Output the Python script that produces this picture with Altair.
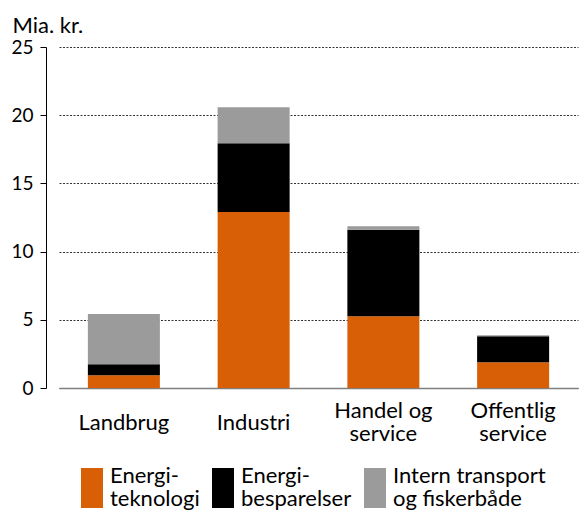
import altair as alt
import pandas as pd

categories = ["Landbrug", "Industri", "Handel og|service", "Offentlig|service"]
series = ["Energi-|teknologi", "Energi-|besparelser", "Intern transport|og fiskerbåde"]
energiteknologi = [0.93, 12.9, 5.26, 1.88]
energibesparelser = [0.81, 5.04, 6.35, 1.91]
intern_transport = [3.68, 2.64, 0.24, 0.07]
colors = ["#D95F07", "#000000", "#9B9B9B"]

rows = []
for i, c in enumerate(categories):
    for j, (s, vals) in enumerate(zip(series, [energiteknologi, energibesparelser, intern_transport])):
        rows.append({"kategori": c, "serie": s, "værdi": vals[i], "orden": j})
df = pd.DataFrame(rows)

FONT = "Lato"
FS = 22

chart = alt.Chart(df).mark_bar().encode(
    x=alt.X(
        "kategori:N",
        sort=categories,
        scale=alt.Scale(range=[13, 532], paddingInner=0.445, paddingOuter=0.2225),
        axis=alt.Axis(
            title=None,
            labelAngle=0,
            ticks=False,
            domainColor="#7f7f7f",
            domainWidth=1.5,
            labelExpr="split(datum.label, '|')",
            labelBaseline="middle",
            labelPadding={"condition": {"test": "indexof(datum.value, '|') >= 0", "value": 22}, "value": 34},
            labelLineHeight=23,
            labelFontSize=FS,
            labelColor="#000000",
            labelFont=FONT,
        ),
    ),
    y=alt.Y(
        "værdi:Q",
        stack="zero",
        scale=alt.Scale(domain=[0, 25], nice=False),
        axis=alt.Axis(
            values=[0, 5, 10, 15, 20, 25],
            title="Mia. kr.",
            titleAngle=0,
            titleAlign="left",
            titleBaseline="alphabetic",
            titleX=-34,
            titleY=-15,
            titleFontSize=FS,
            titleFontWeight="normal",
            titleFont=FONT,
            titleColor="#000000",
            labelFontSize=19,
            labelFont=FONT,
            labelColor="#000000",
            labelPadding=7,
            tickSize=6,
            tickColor="#000000",
            domainColor="#000000",
            grid=True,
            gridColor="#333333",
            gridDash=[2, 1.5],
            gridWidth=1,
        ),
    ),
    color=alt.Color(
        "serie:N",
        scale=alt.Scale(domain=series, range=colors),
        legend=alt.Legend(
            title=None,
            orient="none",
            legendX=35,
            legendY=418,
            direction="horizontal",
            columns=3,
            columnPadding=12,
            symbolType="M-1,-0.73H1V2.91H-1Z",
            symbolSize=484,
            symbolStrokeWidth=0,
            labelExpr="split(datum.label, '|')",
            labelFontSize=FS,
            labelFont=FONT,
            labelColor="#000000",
            labelOffset=7,
            labelLimit=300,
        ),
    ),
    order=alt.Order("orden:Q", sort="ascending"),
).properties(
    width=534,
    height=341,
    padding={"left": 38, "top": 39, "right": 0, "bottom": 123},
    autosize=alt.AutoSizeParams(type="none"),
).configure(style={"guide-label": {"lineHeight": 23}}).configure_view(stroke=None)

chart.save("out.html", embed_options={"renderer": "svg", "actions": False})
